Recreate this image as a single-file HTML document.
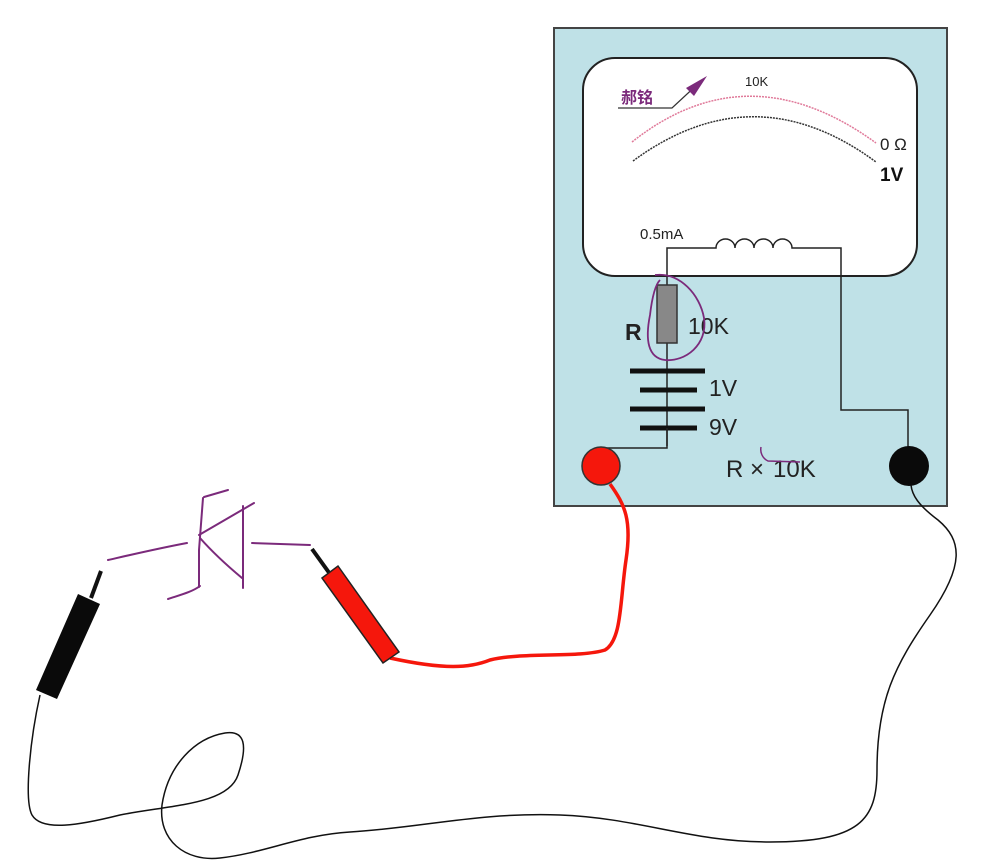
<!DOCTYPE html>
<html><head><meta charset="utf-8"><style>
html,body{margin:0;padding:0;background:#fff;}
svg{display:block}
text{font-family:"Liberation Sans","Noto Sans CJK SC",sans-serif;}
</style></head><body>
<svg width="1000" height="867" viewBox="0 0 1000 867" xmlns="http://www.w3.org/2000/svg">
<rect x="554" y="28" width="393" height="478" fill="#bfe1e7" stroke="#444" stroke-width="2"/>
<rect x="583" y="58" width="334" height="218" rx="32" ry="32" fill="#fff" stroke="#222" stroke-width="2"/>
<path d="M632,142 Q748,50 876,143" fill="none" stroke="#e07a9a" stroke-width="1.5" stroke-dasharray="2,1"/>
<path d="M633,161 Q754,72 876,162" fill="none" stroke="#333" stroke-width="1.5" stroke-dasharray="2,1"/>
<text x="745" y="86" font-size="13" fill="#222">10K</text>
<text x="621" y="103" font-size="16" font-weight="bold" fill="#7b2a7b">郝铭</text>
<polyline points="618,108 672,108 700,82" fill="none" stroke="#333" stroke-width="1.2"/>
<polygon points="707,76 686,88 694,96" fill="#7b2a7b"/>
<text x="880" y="150" font-size="17" fill="#222">0 Ω</text>
<text x="880" y="181" font-size="19" font-weight="bold" fill="#111">1V</text>
<text x="640" y="239" font-size="15" fill="#222">0.5mA</text>
<path d="M667,446 V248 H716 a9.5,9 0 0 1 19,0 a9.5,9 0 0 1 19,0 a9.5,9 0 0 1 19,0 a9.5,9 0 0 1 19,0 H841 V410 H908 V450" fill="none" stroke="#222" stroke-width="1.5"/>
<rect x="657" y="285" width="20" height="58" fill="#888" stroke="#333" stroke-width="1.5"/>
<text x="625" y="340" font-size="23" font-weight="bold" fill="#222">R</text>
<text x="688" y="334" font-size="23" fill="#222">10K</text>
<g stroke="#111" stroke-width="5">
<line x1="630" y1="371" x2="705" y2="371"/>
<line x1="640" y1="390" x2="697" y2="390"/>
<line x1="630" y1="409" x2="705" y2="409"/>
<line x1="640" y1="428" x2="697" y2="428"/>
</g>
<text x="709" y="396" font-size="23" fill="#222">1V</text>
<text x="709" y="435" font-size="23" fill="#222">9V</text>
<polyline points="667,428 667,448 600,448" fill="none" stroke="#222" stroke-width="1.5"/>
<text x="726" y="477" font-size="24" fill="#222">R</text>
<text x="750" y="477" font-size="24" fill="#222">×</text>
<text x="773" y="477" font-size="24" fill="#222">10K</text>
<path d="M761,447 C760,452 762,458 768,461 L800,462" fill="none" stroke="#7b2a7b" stroke-width="1.5"/>
<path d="M655,275 C680,272 700,295 704,318 C708,345 685,362 665,360 C648,358 645,340 650,315 C652,298 655,285 660,280" fill="none" stroke="#7b2a7b" stroke-width="1.8"/>
<circle cx="601" cy="466" r="19" fill="#f5170c" stroke="#333" stroke-width="1.5"/>
<circle cx="909" cy="466" r="20" fill="#0a0a0a"/>
<path d="M610,484 C625,505 632,520 626,560 C620,600 622,640 605,650 C580,658 520,652 490,660 C470,668 445,670 390,658" fill="none" stroke="#f5170c" stroke-width="3.5"/>
<line x1="312" y1="549" x2="330" y2="574" stroke="#111" stroke-width="4"/>
<polygon points="322,578 338,566 399,652 383,663" fill="#f5170c" stroke="#222" stroke-width="1.5"/>
<path d="M40,695 C30,740 24,800 32,815 C42,832 80,825 120,815 C170,805 228,805 238,775 C248,745 245,730 225,733 C195,738 168,765 162,805 C158,840 185,862 220,858 C265,853 300,835 350,832 C420,828 480,812 560,815 C640,818 690,842 770,842 C860,842 877,820 877,770 C877,700 895,665 930,615 C965,565 962,540 938,520 C918,505 912,495 911,485" fill="none" stroke="#111" stroke-width="1.5"/>
<line x1="101" y1="571" x2="91" y2="598" stroke="#111" stroke-width="4"/>
<polygon points="36,690 78,594 100,604 57,699" fill="#0a0a0a"/>
<g fill="none" stroke="#7b2a7b" stroke-width="2" stroke-linecap="round">
<path d="M108,560 C130,555 160,548 187,543"/>
<path d="M203,498 L199,550 L199,587"/>
<path d="M204,497 L228,490"/>
<path d="M199,535 L254,503"/>
<path d="M243,506 L243,588"/>
<path d="M200,538 C215,555 230,568 242,578"/>
<path d="M168,599 C180,595 192,592 200,586"/>
<path d="M252,543 L310,545"/>
</g>
</svg>
</body></html>
